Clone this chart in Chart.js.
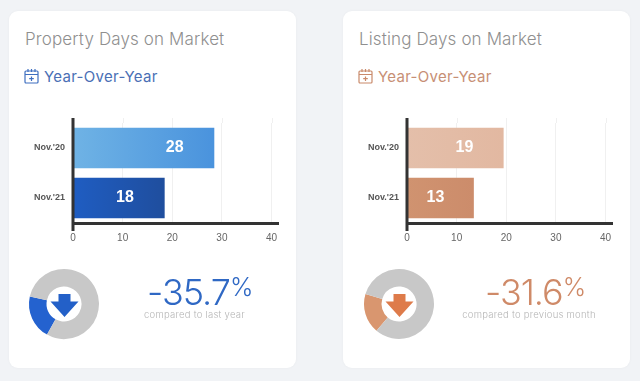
<!DOCTYPE html>
<html>
<head>
<meta charset="utf-8">
<script src="https://cdn.jsdelivr.net/npm/chart.js@4"></script>
<style>
    html, body { margin: 0; padding: 0; background: #f1f3f6; width: 640px; height: 381px; overflow: hidden; font-family: Inter, "Open Sans", sans-serif; }
    .card { position: absolute; top: 11px; width: 287px; height: 357px; background: #fff; border-radius: 9px; box-shadow: 0 0 3px rgba(0, 0, 0, 0.04); }
    .abs { position: absolute; white-space: nowrap; }
    .title { font-size: 17px; font-weight: 300; color: #8f8f8f; line-height: 20px; letter-spacing: 0.13px; }
    .sub { font-size: 15px; font-weight: 400; line-height: 20px; letter-spacing: 0.3px; }
    .pct { font-size: 36px; font-weight: 300; line-height: 40px; letter-spacing: -1px; }
    .pct span { font-size: 25px; vertical-align: 9px; letter-spacing: 0; font-weight: 300; }
    .note { font-size: 9.5px; font-weight: 300; color: #b5b5b5; line-height: 12px; text-align: center; letter-spacing: 0.25px; }
    canvas { position: absolute; }
</style>
</head>
<body>
<div class="card" style="left: 9px"></div>
<div class="card" style="left: 343px"></div>

<div class="abs title" style="left: 25px; top: 29px">Property Days on Market</div>
<div class="abs title" style="left: 359px; top: 29px">Listing Days on Market</div>

<svg class="abs" style="left: 24px; top: 68px" width="15" height="16" viewBox="0 0 15 16" fill="none" stroke="#3f6fc0" stroke-width="1.2">
    <rect x="1" y="3" width="13" height="12" rx="1"/><path d="M1 6.5h13M4 1v3M7.5 1v3M11 1v3M7.5 8.5v4.5M5.2 10.7h4.6"/>
</svg>
<svg class="abs" style="left: 358px; top: 68px" width="15" height="16" viewBox="0 0 15 16" fill="none" stroke="#c98a6b" stroke-width="1.2">
    <rect x="1" y="3" width="13" height="12" rx="1"/><path d="M1 6.5h13M4 1v3M7.5 1v3M11 1v3M7.5 8.5v4.5M5.2 10.7h4.6"/>
</svg>
<div class="abs sub" style="left: 44px; top: 67px; color: #4a6fb5">Year-Over-Year</div>
<div class="abs sub" style="left: 378px; top: 67px; color: #c78f75">Year-Over-Year</div>

<canvas id="barLeft" width="270" height="140" style="left: 20px; top: 110px"></canvas>
<canvas id="barRight" width="270" height="140" style="left: 354px; top: 110px"></canvas>
<canvas id="ringLeft" width="80" height="80" style="left: 24px; top: 264px"></canvas>
<canvas id="ringRight" width="80" height="80" style="left: 359px; top: 264px"></canvas>

<svg class="abs" style="left: 50px; top: 294px" width="29" height="24" viewBox="0 0 29 24"><path d="M8.5 0h12v7.5h8L14.5 23 .5 7.5h8z" fill="#2360c8"/></svg>
<svg class="abs" style="left: 385px; top: 294px" width="29" height="24" viewBox="0 0 29 24"><path d="M8.5 0h12v7.5h8L14.5 23 .5 7.5h8z" fill="#de7b4a"/></svg>

<div class="abs pct" style="left: 147px; top: 267px; color: #2f68c4">-35.7<span>%</span></div>
<div class="abs pct" style="left: 485px; top: 267px; color: #cf8a68">-31.6<span>%</span></div>
<div class="abs note" style="left: 144px; top: 309px; width: 101px">compared to last year</div>
<div class="abs note" style="left: 460px; top: 309px; width: 138px">compared to previous month</div>

<script>
const categories = ["Nov.'20", "Nov.'21"];
const tickValues = [0, 10, 20, 30, 40];
const propertyDays = [28.4, 18.4];
const listingDays = [19.4, 13.4];
const propertyRing = [20.4, 79.6];
const listingRing = [18.5, 81.5];

const propertyGradients = [['#6fb3e5', '#4a93dd'], ['#1f5dc2', '#1f4e9e']];
const listingGradients = [['#e4bfaa', '#e2b8a1'], ['#d09370', '#cc8c6b']];

// axis lines sit on top of the bars and poke out past the plot, like the original
const axisLines = {
    id: 'axisLines',
    afterDatasetsDraw(chart) {
        const { ctx, chartArea, scales } = chart;
        const x0 = scales.x.getPixelForValue(0);
        ctx.save();
        ctx.strokeStyle = '#f0f0f0';
        ctx.lineWidth = 1;
        scales.x.ticks.forEach(t => {
            if (t.value === 0) return;
            const px = Math.round(scales.x.getPixelForValue(t.value)) + 0.5;
            ctx.beginPath();
            ctx.moveTo(px, chartArea.top - 5);
            ctx.lineTo(px, chartArea.top);
            ctx.stroke();
        });
        ctx.strokeStyle = '#333';
        ctx.lineWidth = 3;
        ctx.beginPath();
        ctx.moveTo(x0, chartArea.top - 5);
        ctx.lineTo(x0, chartArea.bottom + 8);
        ctx.moveTo(x0, chartArea.bottom + 0.5);
        ctx.lineTo(chartArea.right, chartArea.bottom + 0.5);
        ctx.stroke();
        ctx.restore();
    }
};

// the number on each bar, not centred in the source so it gets a shift per bar
const barNumbers = {
    id: 'barNumbers',
    afterDatasetsDraw(chart, args, opts) {
        const { ctx } = chart;
        ctx.save();
        ctx.fillStyle = '#fff';
        ctx.font = 'bold 16px "Liberation Sans", Arial, sans-serif';
        ctx.textAlign = 'center';
        ctx.textBaseline = 'middle';
        chart.getDatasetMeta(0).data.forEach((bar, i) => {
            const mid = (bar.x + bar.base) / 2;
            const value = chart.data.datasets[0].data[i];
            ctx.fillText(Math.round(value), mid + opts.shift[i], bar.y);
        });
        ctx.restore();
    }
};

function barChart(id, values, gradients, shift) {
    new Chart(document.getElementById(id), {
        type: 'bar',
        data: {
            labels: categories,
            datasets: [{
                data: values,
                backgroundColor: ctx => {
                    const area = ctx.chart.chartArea;
                    if (!area) return gradients[ctx.dataIndex][0];
                    const scale = ctx.chart.scales.x;
                    const g = ctx.chart.ctx.createLinearGradient(scale.getPixelForValue(0), 0, scale.getPixelForValue(values[ctx.dataIndex]), 0);
                    g.addColorStop(0, gradients[ctx.dataIndex][0]);
                    g.addColorStop(1, gradients[ctx.dataIndex][1]);
                    return g;
                },
                barThickness: 40
            }]
        },
        options: {
            indexAxis: 'y',
            responsive: false,
            animation: false,
            layout: { padding: { top: 13, right: 11, bottom: 0, left: 0 } },
            plugins: { legend: { display: false }, tooltip: { enabled: false }, barNumbers: { shift: shift } },
            scales: {
                x: {
                    min: 0,
                    max: 41.5,
                    afterFit: s => { s.height = 27; },
                    afterBuildTicks: s => { s.ticks = tickValues.map(v => ({ value: v })); },
                    border: { display: false },
                    grid: { color: '#f0f0f0', drawTicks: false },
                    ticks: { includeBounds: false, maxRotation: 0, padding: 9, color: '#666', font: { family: '"Liberation Sans", Arial, sans-serif', size: 10 } }
                },
                y: {
                    afterFit: s => { s.width = 53; },
                    border: { display: false },
                    grid: { display: false },
                    ticks: { padding: 0, color: '#555', font: { family: '"Liberation Sans", Arial, sans-serif', size: 9, weight: 'bold' } }
                }
            }
        },
        plugins: [axisLines, barNumbers]
    });
}

function ringChart(id, values, color, rotation) {
    new Chart(document.getElementById(id), {
        type: 'doughnut',
        data: {
            datasets: [{ data: values, backgroundColor: [color, '#c8c8c8'], borderWidth: 0 }]
        },
        options: {
            responsive: false,
            animation: false,
            rotation: rotation,
            radius: 35,
            cutout: '50%',
            plugins: { legend: { display: false }, tooltip: { enabled: false } }
        }
    });
}

barChart('barLeft', propertyDays, propertyGradients, [31, 6]);
barChart('barRight', listingDays, listingGradients, [9, -5]);
ringChart('ringLeft', propertyRing, '#2462cf', 209);
ringChart('ringRight', listingRing, '#d9966f', 220);
</script>
</body>
</html>
